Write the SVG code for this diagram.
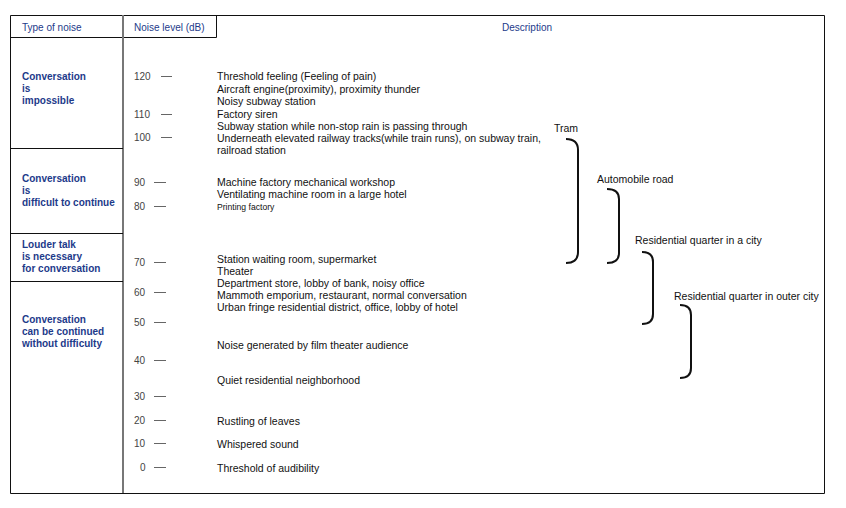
<svg xmlns="http://www.w3.org/2000/svg" width="846" height="508" viewBox="0 0 846 508">
<style>
.frame{fill:none;stroke:#111;stroke-width:1}
.div{stroke:#777;stroke-width:2}
.hd{font-family:"Liberation Sans",Arial,sans-serif;font-size:10px;fill:#1d3a8a}
.cat{font-family:"Liberation Sans",Arial,sans-serif;font-size:10px;font-weight:bold;fill:#1d3a8a}
.num{font-family:"Liberation Sans",Arial,sans-serif;font-size:10px;fill:#444}
.tick{stroke:#666;stroke-width:1}
.d{font-family:"Liberation Sans",Arial,sans-serif;font-size:10.5px;fill:#111}
.ds{font-family:"Liberation Sans",Arial,sans-serif;font-size:8.6px;fill:#111}
.br{fill:none;stroke:#111;stroke-width:2}
</style>
<rect x="0" y="0" width="846" height="508" fill="#fff"/>
<g id="table">
<path class="frame" d="M10.5 15.5H824.5V493.5H10.5Z"/>
<path class="frame" d="M10.5 37.5H216.5V15.5"/>
<line class="div" x1="123" y1="15" x2="123" y2="493"/>
<path class="frame" d="M10.5 148.5H123M10.5 233.5H123M10.5 281.5H123"/>
<text class="hd" x="22" y="31">Type of noise</text>
<text class="hd" x="134" y="31">Noise level (dB)</text>
<text class="hd" x="502" y="31">Description</text>
</g>
<g id="categories">
<text class="cat" x="22" y="80">Conversation<tspan x="22" dy="11.8">is</tspan><tspan x="22" dy="11.8">impossible</tspan></text>
<text class="cat" x="22" y="182">Conversation<tspan x="22" dy="11.8">is</tspan><tspan x="22" dy="11.8">difficult to continue</tspan></text>
<text class="cat" x="22" y="248">Louder talk<tspan x="22" dy="12">is necessary</tspan><tspan x="22" dy="12">for conversation</tspan></text>
<text class="cat" x="22" y="323">Conversation<tspan x="22" dy="12">can be continued</tspan><tspan x="22" dy="12">without difficulty</tspan></text>
</g>
<g id="scale">
<text class="num" x="134" y="80">120</text><line class="tick" x1="161" y1="76.5" x2="172" y2="76.5"/>
<text class="num" x="134" y="118">110</text><line class="tick" x1="161" y1="114.5" x2="172" y2="114.5"/>
<text class="num" x="134" y="141">100</text><line class="tick" x1="161" y1="137.5" x2="172" y2="137.5"/>
<text class="num" x="134" y="186">90</text><line class="tick" x1="154" y1="182.5" x2="166" y2="182.5"/>
<text class="num" x="134" y="210">80</text><line class="tick" x1="154" y1="206.5" x2="166" y2="206.5"/>
<text class="num" x="134" y="266">70</text><line class="tick" x1="154" y1="262.5" x2="166" y2="262.5"/>
<text class="num" x="134" y="296">60</text><line class="tick" x1="154" y1="292.5" x2="166" y2="292.5"/>
<text class="num" x="134" y="326">50</text><line class="tick" x1="154" y1="322.5" x2="166" y2="322.5"/>
<text class="num" x="134" y="364">40</text><line class="tick" x1="154" y1="360.5" x2="166" y2="360.5"/>
<text class="num" x="134" y="400">30</text><line class="tick" x1="154" y1="396.5" x2="166" y2="396.5"/>
<text class="num" x="134" y="424">20</text><line class="tick" x1="154" y1="420.5" x2="166" y2="420.5"/>
<text class="num" x="134" y="447">10</text><line class="tick" x1="154" y1="443.5" x2="166" y2="443.5"/>
<text class="num" x="140" y="471">0</text><line class="tick" x1="154" y1="467.5" x2="166" y2="467.5"/>
</g>
<g id="descriptions">
<text class="d" x="217" y="80">Threshold feeling (Feeling of pain)</text>
<text class="d" x="217" y="92.5">Aircraft engine(proximity), proximity thunder</text>
<text class="d" x="217" y="104.5">Noisy subway station</text>
<text class="d" x="217" y="117.5">Factory siren</text>
<text class="d" x="217" y="129.5">Subway station while non-stop rain is passing through</text>
<text class="d" x="217" y="141.5">Underneath elevated railway tracks(while train runs), on subway train,</text>
<text class="d" x="217" y="153.5">railroad station</text>
<text class="d" x="217" y="185.5">Machine factory mechanical workshop</text>
<text class="d" x="217" y="197.5">Ventilating machine room in a large hotel</text>
<text class="ds" x="217" y="209.5">Printing factory</text>
<text class="d" x="217" y="262.5">Station waiting room, supermarket</text>
<text class="d" x="217" y="274.5">Theater</text>
<text class="d" x="217" y="286.5">Department store, lobby of bank, noisy office</text>
<text class="d" x="217" y="298.5">Mammoth emporium, restaurant, normal conversation</text>
<text class="d" x="217" y="310.5">Urban fringe residential district, office, lobby of hotel</text>
<text class="d" x="217" y="348.5">Noise generated by film theater audience</text>
<text class="d" x="217" y="383.5">Quiet residential neighborhood</text>
<text class="d" x="217" y="424.5">Rustling of leaves</text>
<text class="d" x="217" y="447.5">Whispered sound</text>
<text class="d" x="217" y="471.5">Threshold of audibility</text>
</g>
<g id="tram">
<text class="d" x="554" y="131.5">Tram</text>
<path class="br" d="M566 139Q578 139 578 150V252Q578 263 566 263"/>
</g>
<g id="automobile-road">
<text class="d" x="597" y="182.5">Automobile road</text>
<path class="br" d="M607 189Q619 189 619 199V253Q619 263 607 263"/>
</g>
<g id="residential-city">
<text class="d" x="635" y="243.5">Residential quarter in a city</text>
<path class="br" d="M642 252Q653 252 653 262V314Q653 324 642 324"/>
</g>
<g id="residential-outer">
<text class="d" x="674" y="299.5">Residential quarter in outer city</text>
<path class="br" d="M680 305Q691 305 691 315V368Q691 378 680 378"/>
</g>
</svg>
